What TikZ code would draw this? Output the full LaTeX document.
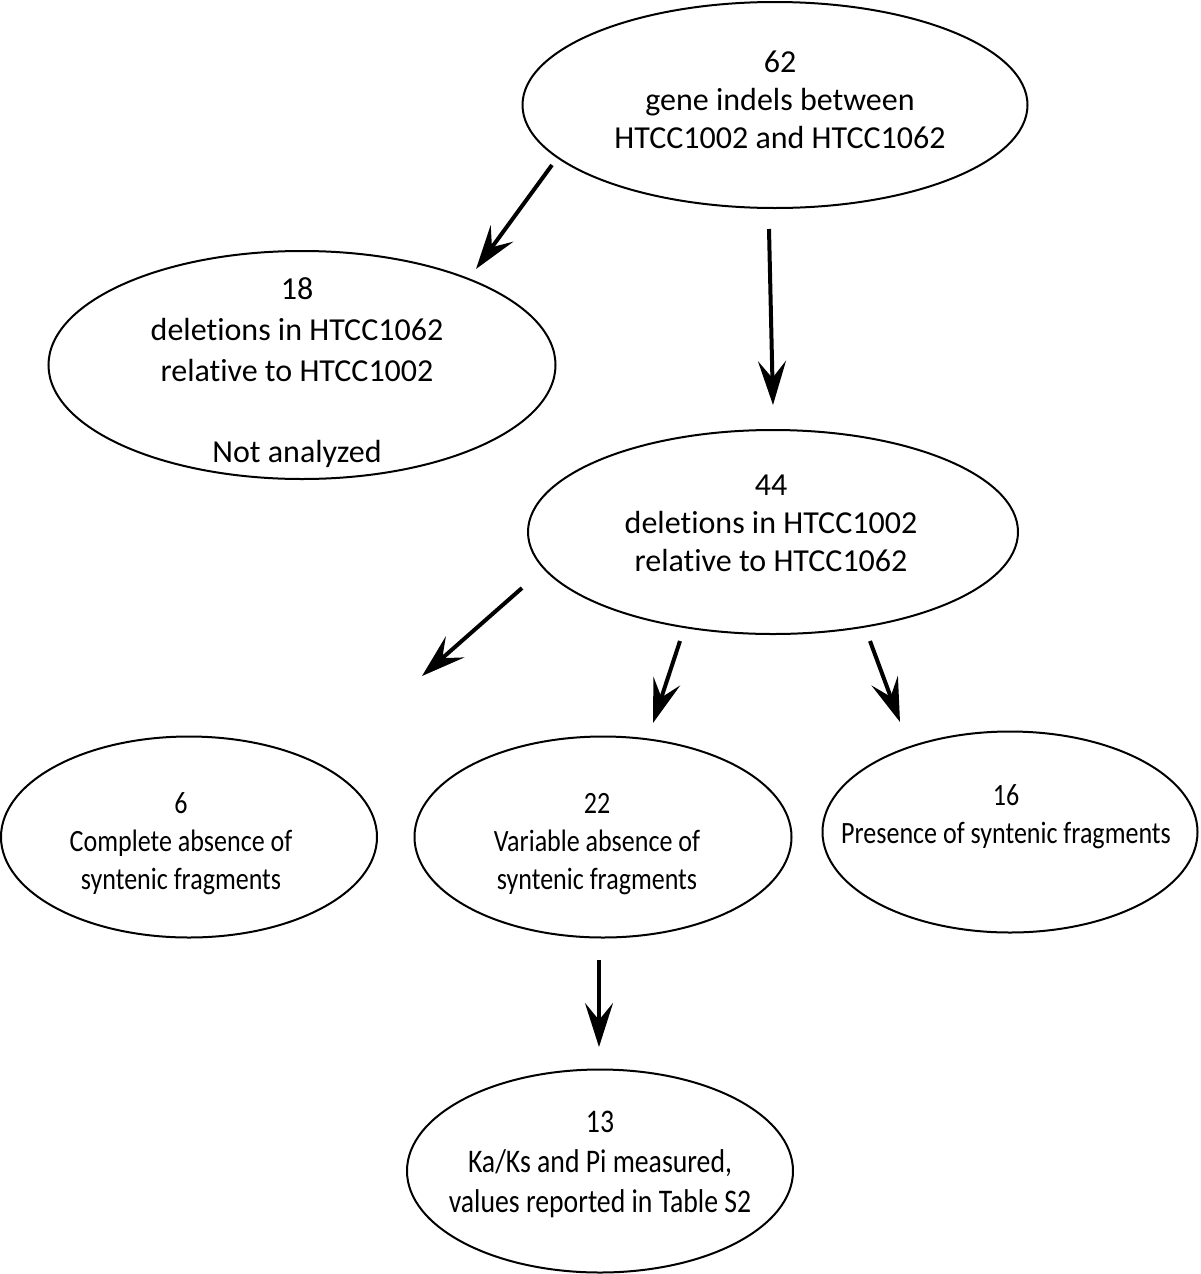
\documentclass[tikz,border=0pt]{standalone}
\usepackage{fontspec}
\setmainfont{Carlito}[RawFeature={-liga;-clig;-dlig;-calt}]
\newfontfamily\condfont[FakeStretch=0.84,RawFeature={-liga;-clig;-dlig;-calt}]{Carlito}
\usepackage{tikz}
\usetikzlibrary{arrows.meta,shapes.geometric,calc}

\begin{document}
\begin{tikzpicture}[x=1pt,y=-1pt,
  bub/.style={draw=black,ellipse,line width=2pt,inner sep=0pt},
  widetxt/.style={align=center,inner sep=0pt,font=\fontsize{32}{38}\selectfont},
  condtxt/.style={align=center,inner sep=0pt,font=\condfont\fontsize{31}{38}\selectfont},
  sig/.style={-{Stealth[length=44pt,width=28pt,inset=17pt]},draw=black,line width=4pt}]

\useasboundingbox (0,0) rectangle (1200,1274);

% row 1 -- all indels
\node[bub,minimum width=505,minimum height=206] (e62) at (775,105) {};
\node[widetxt] (t62) at (780,100) {62\\gene indels between\\HTCC1002 and HTCC1062};

% row 2 -- the two directions
\node[bub,minimum width=507,minimum height=228] (e18) at (302,365) {};
\node[widetxt,font=\fontsize{32}{41}\selectfont] (t18) at (297,373) {18\\deletions in HTCC1062\\relative to HTCC1002\\[40pt]Not analyzed};
\node[bub,minimum width=490,minimum height=204] (e44) at (773,532) {};
\node[widetxt] (t44) at (771,523) {44\\deletions in HTCC1002\\relative to HTCC1062};

% row 3 -- syntenic fragments
\node[bub,minimum width=376,minimum height=201] (e6) at (189,837) {};
\node[condtxt] (t6) at (181,844) {6\\Complete absence of\\syntenic fragments};
\node[bub,minimum width=377,minimum height=201] (e22) at (603,837) {};
\node[condtxt] (t22) at (597,844) {22\\Variable absence of\\syntenic fragments};
\node[bub,minimum width=375,minimum height=201] (e16) at (1010,832) {};
\node[condtxt] (t16) at (1006,817) {16\\Presence of syntenic fragments};

% row 4 -- measured
\node[bub,minimum width=386,minimum height=203] (e13) at (600,1171) {};
\node[condtxt,font=\condfont\fontsize{33}{40}\selectfont] (t13) at (600,1164) {13\\Ka/Ks and Pi measured,\\values reported in Table S2};

\draw[sig] ($(e62)+(-223,60)$) -- ($(e18)+(174,-96)$);
\draw[sig] ($(e62)+(-6,124)$) -- ($(e44)+(0,-127)$);
\draw[sig] ($(e44)+(-251,56)$) -- ($(e6)+(233,-161)$);
\draw[sig] ($(e44)+(-93,109)$) -- ($(e22)+(50,-114)$);
\draw[sig] ($(e44)+(97,109)$) -- ($(e16)+(-110,-110)$);
\draw[sig] ($(e22)+(-4,123)$) -- ($(e13)+(-1,-124)$);

\end{tikzpicture}
\end{document}
